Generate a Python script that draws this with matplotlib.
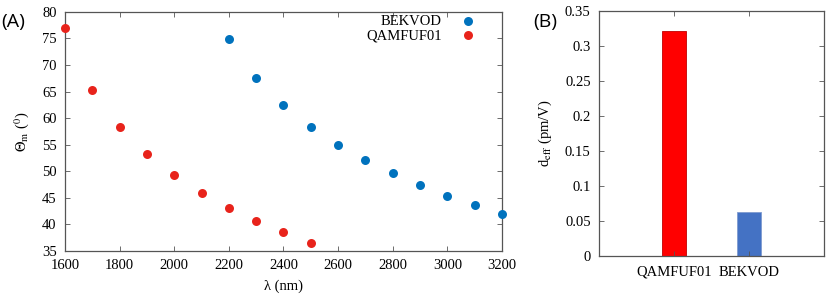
import matplotlib
matplotlib.use("Agg")
import matplotlib.pyplot as plt

plt.rcParams['font.family'] = 'serif'
plt.rcParams['font.serif'] = ['Liberation Serif', 'DejaVu Serif']
plt.rcParams['mathtext.fontset'] = 'stix'

# Panel A data
wl_bekvod = [2200, 2300, 2400, 2500, 2600, 2700, 2800, 2900, 3000, 3100, 3200]
theta_bekvod = [74.9, 67.6, 62.4, 58.4, 55.0, 52.1, 49.6, 47.4, 45.4, 43.6, 41.9]
wl_qam = [1600, 1700, 1800, 1900, 2000, 2100, 2200, 2300, 2400, 2500]
theta_qam = [77.0, 65.3, 58.4, 53.3, 49.25, 45.9, 43.1, 40.6, 38.5, 36.6]

# Panel B data
crystals = ['QAMFUF01', 'BEKVOD']
deff = [0.322, 0.063]

blue = '#0072BD'
red = '#E8231B'
spine = '#555555'
fs = 10.5
serif = ['Liberation Serif', 'DejaVu Serif']

fig = plt.figure(figsize=(8.3, 2.95), dpi=100)
ax1 = fig.add_axes([0.0783, 0.149, 0.5265, 0.811])
ax2 = fig.add_axes([0.7217, 0.1322, 0.271, 0.8305])

ax1.scatter(wl_bekvod, theta_bekvod, s=42, color=blue, label='BEKVOD', zorder=3, linewidths=0, clip_on=False)
ax1.scatter(wl_qam, theta_qam, s=42, color=red, label='QAMFUF01', zorder=3, linewidths=0, clip_on=False)
ax1.set_xlim(1600, 3200)
ax1.set_ylim(35, 80)
ax1.set_xticks(range(1600, 3201, 200))
ax1.set_yticks(range(35, 81, 5))
ax1.set_xticklabels([str(v) for v in range(1600, 3201, 200)])
ax1.set_yticklabels([str(v) for v in range(35, 81, 5)])
ax1.set_xlabel('λ (nm)', fontsize=fs, labelpad=5, family=serif)
ax1.set_ylabel(r'$\Theta_\mathrm{m}$ ($^0$)', fontsize=fs, labelpad=8)
ax1.legend(loc='upper right', bbox_to_anchor=(0.939, 0.987), frameon=False, markerfirst=False,
           prop={'family': serif, 'size': fs},
           handletextpad=1.3, labelspacing=0.05, borderaxespad=0.0, borderpad=0.0,
           handlelength=1.0)

x = [1, 2]
ax2.bar(x[0], deff[0], width=0.33, color='#FF0000', edgecolor='#C00000', linewidth=0.6)
ax2.bar(x[1], deff[1], width=0.33, color='#4472C4', edgecolor='#7F9BD0', linewidth=0.6)
ax2.set_xlim(0, 3)
ax2.set_ylim(0, 0.35)
ax2.set_xticks(x)
ax2.set_xticklabels(crystals)
ax2.set_yticks([0, 0.05, 0.1, 0.15, 0.2, 0.25, 0.3, 0.35])
ax2.set_yticklabels(['0', '0.05', '0.1', '0.15', '0.2', '0.25', '0.3', '0.35'])
ax2.set_ylabel(r'd$_{\rm eff}$ (pm/V)', fontsize=fs, labelpad=8)

for ax in (ax1, ax2):
    ax.tick_params(direction='in', length=3.5, width=0.6, color=spine,
                   labelsize=fs, top=True, right=True, pad=6)
    for s in ax.spines.values():
        s.set_color(spine)
        s.set_linewidth(0.9)
    for lbl in ax.get_xticklabels() + ax.get_yticklabels():
        lbl.set_fontfamily(serif)
ax2.tick_params(axis='x', length=0, pad=7)
ax2.tick_params(axis='x', which='both', top=True, length=3.5)

fig.text(0.002, 0.91, '(A)', fontsize=14, family=['Open Sans', 'DejaVu Sans'])
fig.text(0.643, 0.91, '(B)', fontsize=14, family=['Open Sans', 'DejaVu Sans'])

fig.savefig('out.png', dpi=100)
